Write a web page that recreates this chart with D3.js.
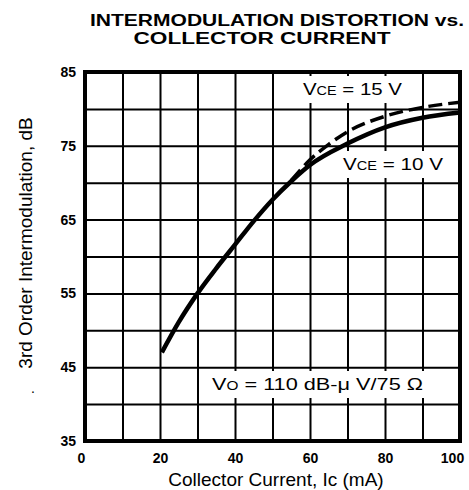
<!DOCTYPE html>
<html>
<head>
<meta charset="utf-8">
<script src="https://cdn.jsdelivr.net/npm/d3@7"></script>
<style>
  body { margin: 0; background: #fff; }
  svg { display: block; font-family: "Liberation Sans", Arial, sans-serif; }
</style>
</head>
<body>
<svg id="chart" width="469" height="490"></svg>
<script>
// ----- Data -----------------------------------------------------------------
var X_TICK_LABELS = [0, 20, 40, 60, 80, 100];
var Y_TICK_LABELS = [35, 45, 55, 65, 75, 85];
var X_GRID = [10, 20, 30, 40, 50, 60, 70, 80, 90];
var Y_GRID = [40, 45, 50, 55, 60, 65, 70, 75, 80];

// VCE = 10 V (solid)
var VCE10_CURRENT = [20.5, 25, 30, 35, 40, 45, 50, 55, 60, 70, 80, 90, 100];
var VCE10_IMD = [47, 51.1, 55, 58.4, 61.6, 64.8, 67.7, 70.2, 72.4, 75.3, 77.5, 78.8, 79.5];

// VCE = 15 V (dashed)
var VCE15_CURRENT = [55, 60, 65, 70, 80, 90, 100];
var VCE15_IMD = [70.3, 73.1, 75.2, 76.9, 79.0, 80.2, 80.9];

var svg = d3.select('#chart');

var margin = { top: 72, right: 9, bottom: 49, left: 85 };
var width = 469 - margin.left - margin.right;
var height = 490 - margin.top - margin.bottom;

var x = d3.scaleLinear().domain([0, 100]).range([0, width]);
var y = d3.scaleLinear().domain([35, 85]).range([height, 0]);

var g = svg.append('g')
    .attr('transform', 'translate(' + margin.left + ',' + margin.top + ')');

// ----- Grid ---------------------------------------------------------------
g.append('g')
    .attr('class', 'grid')
    .call(d3.axisBottom(x).tickValues(X_GRID).tickSize(height).tickFormat(''))
  .call(function(s) { s.select('.domain').remove(); });

g.append('g')
    .attr('class', 'grid')
    .call(d3.axisRight(y).tickValues(Y_GRID).tickSize(width).tickFormat(''))
  .call(function(s) { s.select('.domain').remove(); });

g.selectAll('.grid line')
    .attr('stroke', '#000')
    .attr('stroke-width', 2);

// ----- Curves -------------------------------------------------------------
function pairs(xs, ys) {
  return xs.map(function(v, i) { return [v, ys[i]]; });
}

var line = d3.line()
    .x(function(d) { return x(d[0]); })
    .y(function(d) { return y(d[1]); })
    .curve(d3.curveMonotoneX);

g.append('path')
    .datum(pairs(VCE15_CURRENT, VCE15_IMD))
    .attr('fill', 'none')
    .attr('stroke', '#000')
    .attr('stroke-width', 3.5)
    .attr('stroke-dasharray', '14,6')
    .attr('d', line);

g.append('path')
    .datum(pairs(VCE10_CURRENT, VCE10_IMD))
    .attr('fill', 'none')
    .attr('stroke', '#000')
    .attr('stroke-width', 4.5)
    .attr('d', line);

// ----- Labels inside the plot (on white boxes) ----------------------------
function boxedLabel(px, py, len, parts) {
  var grp = g.append('g');
  var rect = grp.append('rect').attr('fill', '#fff');
  var t = grp.append('text')
      .attr('x', px)
      .attr('y', py)
      .attr('font-size', 17)
      .attr('textLength', len)
      .attr('lengthAdjust', 'spacingAndGlyphs');
  parts.forEach(function(p) {
    t.append('tspan').attr('font-size', p[1]).text(p[0]);
  });
  var bb = t.node().getBBox();
  rect.attr('x', bb.x - 5).attr('y', bb.y - 4)
      .attr('width', bb.width + 10).attr('height', bb.height + 8);
  return grp;
}

boxedLabel(218, 23, 99, [['V', 17], ['CE', 12], [' = 15 V', 17]]);
boxedLabel(258, 98, 100, [['V', 17], ['CE', 12], [' = 10 V', 17]]);
boxedLabel(127, 318, 211, [['V', 17], ['O', 12], [' = 110 dB-\u03bc V/75 \u03a9', 17]]);

// ----- Frame --------------------------------------------------------------
g.append('rect')
    .attr('x', 0).attr('y', 0)
    .attr('width', width).attr('height', height)
    .attr('fill', 'none')
    .attr('stroke', '#000')
    .attr('stroke-width', 4);

// ----- Axes labels ----------------------------------------------------------
var xAxis = g.append('g')
    .attr('transform', 'translate(0,' + height + ')')
    .call(d3.axisBottom(x).tickValues(X_TICK_LABELS).tickSize(0).tickPadding(12));
xAxis.select('.domain').remove();

var yAxis = g.append('g')
    .call(d3.axisLeft(y).tickValues(Y_TICK_LABELS).tickSize(0).tickPadding(9));
yAxis.select('.domain').remove();

g.selectAll('.tick text')
    .attr('font-family', '"Liberation Sans", Arial, sans-serif')
    .attr('font-size', 14)
    .attr('font-weight', 'bold')
    .attr('fill', '#000');

xAxis.selectAll('.tick text')
    .attr('dx', function(d) { return d === 0 ? -4 : (d === 100 ? -8 : 0); });

// ----- Titles -------------------------------------------------------------
svg.append('text')
    .attr('x', 277)
    .attr('y', 26)
    .attr('text-anchor', 'middle')
    .attr('font-size', 16)
    .attr('font-weight', 'bold')
    .attr('textLength', 374)
    .attr('lengthAdjust', 'spacingAndGlyphs')
    .text('INTERMODULATION DISTORTION vs.');

svg.append('text')
    .attr('x', 262)
    .attr('y', 44)
    .attr('text-anchor', 'middle')
    .attr('font-size', 16)
    .attr('font-weight', 'bold')
    .attr('textLength', 257)
    .attr('lengthAdjust', 'spacingAndGlyphs')
    .text('COLLECTOR CURRENT');

svg.append('text')
    .attr('x', 276)
    .attr('y', 486)
    .attr('text-anchor', 'middle')
    .attr('font-size', 19)
    .text('Collector Current, Ic (mA)');

svg.append('text')
    .attr('transform', 'translate(32,243) rotate(-90)')
    .attr('text-anchor', 'middle')
    .attr('font-size', 19)
    .text('3rd Order Intermodulation, dB');

svg.append('text')
    .attr('x', 31)
    .attr('y', 393)
    .attr('font-size', 14)
    .text('.');
</script>
</body>
</html>
